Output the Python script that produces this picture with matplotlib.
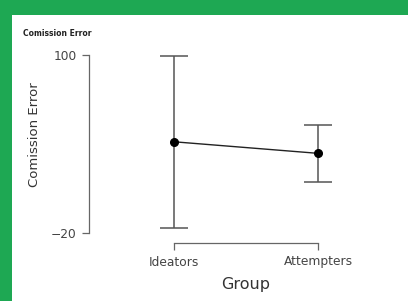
import matplotlib
matplotlib.use("Agg")
import matplotlib.pyplot as plt
from matplotlib.patches import Rectangle

groups = ["Ideators", "Attempters"]
means = [41.5, 33.7]
errors = [58.0, 19.3]
y_ticks = [-20, 100]

W, H = 408, 301
fig = plt.figure(figsize=(W / 100, H / 100), dpi=100)
fig.patch.set_facecolor("#1ea853")
# white panel behind the chart
fig.patches.append(Rectangle((12 / W, 0), 1 - 12 / W, 1 - 15 / H,
                             transform=fig.transFigure, facecolor="white",
                             edgecolor="none", zorder=-1))

# axes right edge chosen so the x label sits centred between the groups
ax = fig.add_axes([89 / W, 1 - 243 / H, (403 - 89) / W, (243 - 55) / H])
ax.set_facecolor("none")
x = list(range(len(groups)))
ax.errorbar(x, means, yerr=errors, fmt="none", ecolor="#555555",
            elinewidth=1.1, capsize=10, capthick=1.1, zorder=2)
ax.plot(x, means, color="#222222", lw=1.0, marker="o", ms=5.5,
        mfc="black", mec="black", zorder=3)

ax.set_ylim(-26.74, 100)
ax.set_xlim(-0.59, 1.59)
ax.set_yticks(y_ticks)
ax.set_xticks(x)
ax.set_xticklabels(groups)
for s in ["top", "right"]:
    ax.spines[s].set_visible(False)
ax.spines["left"].set_bounds(-20, 100)
ax.spines["bottom"].set_bounds(0, 1)
for s in ["left", "bottom"]:
    ax.spines[s].set_color("#666666")
    ax.spines[s].set_linewidth(0.9)
ax.tick_params(axis="both", colors="#666666", width=0.9, length=5,
               labelcolor="#444444", labelsize=8.8)
ax.tick_params(axis="y", pad=4)
ax.tick_params(axis="x", pad=4)

ax.set_xlabel("Group", fontsize=11.5, color="#333333", labelpad=6)
fig.text(35 / W, 1 - 135 / H, "Comission Error", rotation=90, fontsize=9.5,
         color="#333333", ha="center", va="center")
fig.text(23 / W, 1 - 34 / H, "Comission Error", fontsize=5.5,
         fontweight="bold", color="#222222", ha="left", va="center")

fig.savefig("out.png", dpi=100, facecolor=fig.get_facecolor())
